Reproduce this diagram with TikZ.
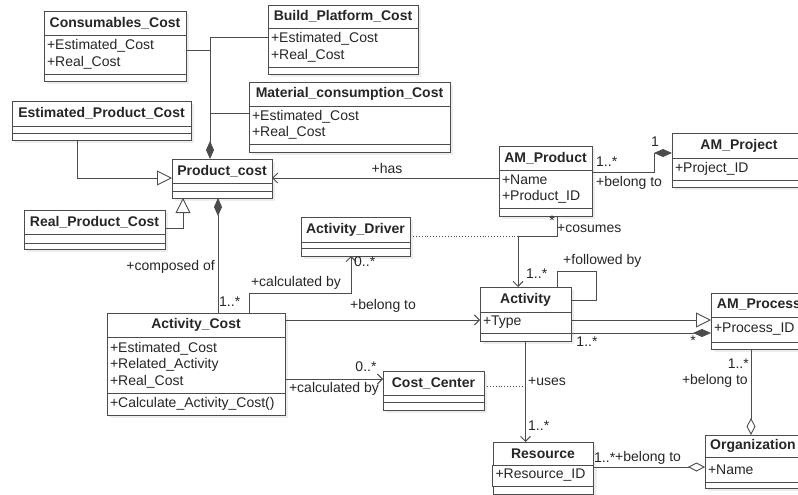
\documentclass[tikz,border=0pt]{standalone}
\usepackage{fontspec}
\setmainfont{Liberation Sans}
\usetikzlibrary{arrows.meta, positioning, shadows}

\tikzset{
  box/.style={draw=black!70, line width=0.9pt, fill=white, text=black!85,
    inner xsep=3pt, inner ysep=0pt, outer sep=0pt,
    drop shadow={opacity=0.5, fill=black!14, shadow xshift=3pt, shadow yshift=-3pt}},
  head/.style={box, text width=#1, align=center,
    font=\fontsize{14}{16.5}\selectfont\bfseries, anchor=north west},
  attr/.style={box, text width=#1, align=left, font=\fontsize{14}{16.5}\selectfont},
  lbl/.style={font=\fontsize{14}{16.5}\selectfont, text=black!85, inner sep=1pt},
  link/.style={draw=black!70, line width=0.9pt},
  nav/.style={link, -{Straight Barb[length=5pt,width=10pt]}},
  gen/.style={link, -{Triangle[open,length=15pt,width=15pt]}},
  comp/.style={link, -{Diamond[length=18pt,width=8pt]}},
  aggr/.style={link, -{Diamond[open,length=17pt,width=9pt]}}
}

\begin{document}
\begin{tikzpicture}[x=1pt, y=-1pt]
\useasboundingbox (0,0) rectangle (798,495);
\clip (0,0) rectangle (798,495);

% classes
\node[head=136pt, minimum height=24pt] (cons) at (44,11) {Consumables\_Cost};
\node[attr=136pt, minimum height=39pt, below=0pt of cons] (cons-a) {+Estimated\_Cost\\+Real\_Cost};
\node[attr=136pt, minimum height=7pt, below=0pt of cons-a] (cons-o) {};

\node[head=144pt, minimum height=23pt] (build) at (268,5) {Build\_Platform\_Cost};
\node[attr=144pt, minimum height=39pt, below=0pt of build] (build-a) {+Estimated\_Cost\\+Real\_Cost};
\node[attr=144pt, minimum height=7pt, below=0pt of build-a] (build-o) {};

\node[head=195pt, minimum height=24pt] (mat) at (249,82) {Material\_consumption\_Cost};
\node[attr=195pt, minimum height=38pt, below=0pt of mat] (mat-a) {+Estimated\_Cost\\+Real\_Cost};
\node[attr=195pt, minimum height=8pt, below=0pt of mat-a] (mat-o) {};

\node[head=173pt, minimum height=25pt] (est) at (12,101) {Estimated\_Product\_Cost};
\node[attr=173pt, minimum height=7pt, below=0pt of est] (est-a) {};
\node[attr=173pt, minimum height=7pt, below=0pt of est-a] (est-o) {};

\node[head=94pt, minimum height=24pt] (prod) at (172,159) {Product\_cost};
\node[attr=94pt, minimum height=8pt, below=0pt of prod] (prod-a) {};
\node[attr=94pt, minimum height=7pt, below=0pt of prod-a] (prod-o) {};

\node[head=135pt, minimum height=24pt] (real) at (24,210) {Real\_Product\_Cost};
\node[attr=135pt, minimum height=9pt, below=0pt of real] (real-a) {};
\node[attr=135pt, minimum height=6pt, below=0pt of real-a] (real-o) {};

\node[head=103pt, minimum height=25pt] (driver) at (301,217) {Activity\_Driver};
\node[attr=103pt, minimum height=6pt, below=0pt of driver] (driver-a) {};
\node[attr=103pt, minimum height=8pt, below=0pt of driver-a] (driver-o) {};

\node[head=87pt, minimum height=24pt] (amprod) at (499,146) {AM\_Product};
\node[attr=87pt, minimum height=38pt, below=0pt of amprod] (amprod-a) {+Name\\+Product\_ID};
\node[attr=87pt, minimum height=8pt, below=0pt of amprod-a] (amprod-o) {};

\node[head=128pt, minimum height=25pt] (amproj) at (672,133) {AM\_Project};
\node[attr=128pt, minimum height=22pt, below=0pt of amproj] (amproj-a) {+Project\_ID};
\node[attr=128pt, minimum height=7pt, below=0pt of amproj-a] (amproj-o) {};

\node[head=85pt, minimum height=25pt] (activity) at (480,287) {Activity};
\node[attr=85pt, minimum height=21pt, below=0pt of activity] (activity-a) {+Type};
\node[attr=85pt, minimum height=8pt, below=0pt of activity-a] (activity-o) {};

\node[head=90pt, minimum height=24pt] (amproc) at (711,293) {AM\_Process};
\node[attr=90pt, minimum height=25pt, below=0pt of amproc] (amproc-a) {+Process\_ID};
\node[attr=90pt, minimum height=7pt, below=0pt of amproc-a] (amproc-o) {};

\node[head=172pt, minimum height=24pt] (actcost) at (107,313) {Activity\_Cost};
\node[attr=172pt, minimum height=56pt, below=0pt of actcost] (actcost-a) {+Estimated\_Cost\\+Related\_Activity\\+Real\_Cost};
\node[attr=172pt, minimum height=22pt, below=0pt of actcost-a] (actcost-o) {+Calculate\_Activity\_Cost()};

\node[head=95pt, minimum height=24pt] (costc) at (383,371) {Cost\_Center};
\node[attr=95pt, minimum height=7pt, below=0pt of costc] (costc-a) {};
\node[attr=95pt, minimum height=8pt, below=0pt of costc-a] (costc-o) {};

\node[head=94pt, minimum height=23pt] (resource) at (493,442) {Resource};
\node[attr=95pt, minimum height=21pt, below=0pt of resource] (resource-a) {+Resource\_ID};
\node[attr=94pt, minimum height=8pt, below=0pt of resource-a] (resource-o) {};

\node[head=90pt, minimum height=22pt] (org) at (705,435) {Organization};
\node[attr=90pt, minimum height=25pt, below=0pt of org] (org-a) {+Name};
\node[attr=90pt, minimum height=6pt, below=0pt of org-a] (org-o) {};

% connectors
\coordinate (trunk) at (210,37);
\coordinate (matjoin) at (210,113);
\coordinate (consout) at ([yshift=4.5pt]cons-a.east);
\draw[link, {Diamond[length=18pt,width=8pt]}-] (prod.north -| trunk) -- (trunk) -- (trunk -| build-a.west);
\draw[link] (consout) -- (consout -| trunk);
\draw[link] (matjoin) -- (matjoin -| mat-a.west);

\coordinate (gentip) at ([yshift=-7pt]prod.west);
\draw[gen] ([xshift=-24.5pt]est-o.south) |- (gentip);
\coordinate (realout) at ([yshift=-6pt]real.east);
\draw[gen] (realout) -| ([xshift=-39pt]prod-o.south);

\coordinate (compo) at ([xshift=-4pt]prod-o.south);
\draw[link, {Diamond[length=18pt,width=8pt]}-] (compo) -- (compo |- actcost.north);

\coordinate (hasend) at ([yshift=-7pt]prod.east);
\draw[nav] (hasend -| amprod-a.west) -- (hasend);

\coordinate (pj) at (654,153);
\draw[comp] ([yshift=-2pt]amprod-a.north east) -| (pj) -- (pj -| amproj.west);

\coordinate (cs) at (518,236);
\draw[nav] ([xshift=11.5pt]amprod-o.south) |- (cs) -- (cs |- activity.north);
\draw[link, dotted] (cs -| driver.east) -- (cs);

\coordinate (fl1) at (557,271);
\coordinate (fl2) at (596,300);
\draw[link] (fl1 |- activity.north) -- (fl1) -| (fl2) -- (fl2 -| activity.east);

\coordinate (bt) at ([yshift=2.5pt]activity-a.west);
\draw[nav] (bt -| actcost.east) -- (bt);

\coordinate (cb) at (351,293);
\draw[nav] ([xshift=53pt]actcost.north) |- (cb) -- (cb |- driver-o.south);

\coordinate (cc) at ([yshift=4pt]costc.west);
\draw[nav] (cc -| actcost-a.east) -- (cc);

\coordinate (ge) at ([yshift=-3pt]amproc.south west);
\draw[gen] (ge -| activity-a.east) -- (ge);
\draw[comp] (activity-a.south east) -- (activity-a.south east -| amproc-a.west);

\draw[nav] (activity-o.south) -- (activity-o.south |- resource.north);
\coordinate (ccd) at ([yshift=-3pt]costc.east);
\draw[link, dotted] (ccd) -- (ccd -| activity-o.south);

\coordinate (ag) at ([xshift=-8pt]amproc-o.south);
\draw[aggr] (ag) -- (ag |- org.north);
\coordinate (ro) at ([yshift=-2pt]resource-a.north east);
\draw[aggr] (ro) -- (ro -| org-a.west);

% labels
\node[lbl, anchor=east] (l-comp) at (216,267) {+composed of};
\node[lbl, anchor=west] (l-comp-m) at (218,302) {1..*};
\node[lbl] (l-has) at (387,168) {+has};
\node[lbl, anchor=west] (l-proj-m) at (595,162) {1..*};
\node[lbl, anchor=west] (l-proj) at (595,183) {+belong to};
\node[lbl] (l-proj-one) at (655,142) {1};
\node[lbl] (l-cos-s) at (552,221) {*};
\node[lbl, anchor=west] (l-cos) at (556,229) {+cosumes};
\node[lbl, anchor=west] (l-cos-m) at (525,274) {1..*};
\node[lbl, anchor=west] (l-fol) at (562,261) {+followed by};
\node[lbl] (l-drv) at (296,283) {+calculated by};
\node[lbl, anchor=west] (l-drv-m) at (353,262) {0..*};
\node[lbl] (l-act) at (383,306) {+belong to};
\node[lbl] (l-cc-m) at (366,367) {0..*};
\node[lbl] (l-cc) at (334,389) {+calculated by};
\node[lbl] (l-proc-m) at (587,342) {1..*};
\node[lbl] (l-proc-s) at (693,341) {*};
\node[lbl, anchor=west] (l-uses) at (527,382) {+uses};
\node[lbl, anchor=west] (l-res-m) at (527,426) {1..*};
\node[lbl, anchor=east] (l-org-m) at (750,364) {1..*};
\node[lbl, anchor=east] (l-org) at (749,381) {+belong to};
\node[lbl, anchor=west] (l-ro-m) at (593,458) {1..*};
\node[lbl, anchor=west] (l-ro) at (614,458) {+belong to};
\end{tikzpicture}
\end{document}
